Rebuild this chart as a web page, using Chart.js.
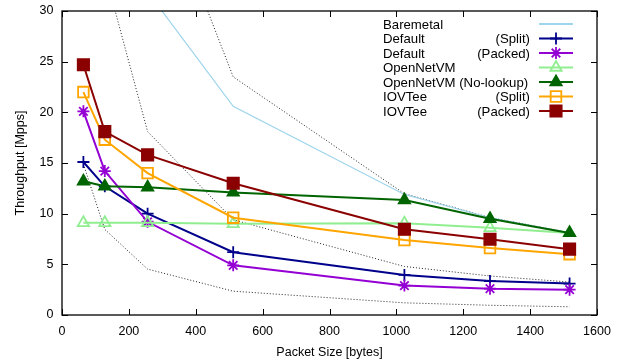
<!DOCTYPE html>
<html>
<head>
<meta charset="utf-8">
<script src="https://cdn.jsdelivr.net/npm/chart.js@4/dist/chart.umd.min.js"></script>
<style>
  html, body { margin: 0; padding: 0; background: #fff; }
  canvas { display: block; }
</style>
</head>
<body>
<canvas id="chart" width="618" height="360"></canvas>
<script>
"use strict";

const PACKET_SIZES = [64, 128, 256, 512, 1024, 1280, 1518];

// measured series (Mpps)
const BAREMETAL        = [45.0, 38.0, 31.9, 20.6, 11.9, 9.6, 8.1];
const DEFAULT_SPLIT    = [15.1, 12.7, 10.0, 6.2, 3.95, 3.35, 3.1];
const DEFAULT_PACKED   = [20.1, 14.2, 9.2, 4.9, 2.9, 2.6, 2.5];
const OPENNETVM        = [9.1, 9.1, 9.1, 9.0, 9.05, 8.6, 8.1];
const OPENNETVM_NOLOOK = [13.2, 12.7, 12.6, 12.1, 11.35, 9.5, 8.1];
const IOVTEE_SPLIT     = [22.0, 17.3, 14.0, 9.6, 7.4, 6.6, 6.0];
const IOVTEE_PACKED    = [24.7, 18.1, 15.8, 13.0, 8.46, 7.47, 6.5];

// dotted reference curves (10G / 40G / 100G line rate)
const RATE_10G  = [14.88, 8.45, 4.53, 2.35, 1.2, 0.96, 0.81];
const RATE_40G  = [59.5, 33.8, 18.1, 9.4, 4.79, 3.85, 3.25];
const RATE_100G = [148.8, 84.5, 45.3, 23.5, 11.97, 9.62, 8.13];

const LEGEND_LEFT  = ["Baremetal", "Default", "Default", "OpenNetVM", "OpenNetVM (No-lookup)", "IOVTee", "IOVTee"];
const LEGEND_RIGHT = ["", "(Split)", "(Packed)", "", "", "(Split)", "(Packed)"];

const X_TICKS = [0, 200, 400, 600, 800, 1000, 1200, 1400, 1600];
const Y_TICKS = [0, 5, 10, 15, 20, 25, 30];

const X_TITLE = "Packet Size [bytes]";
const Y_TITLE = "Throughput [Mpps]";

const FONT = "'Liberation Sans', Arial, sans-serif";
const FONT_SIZE = 12.5;
const KEY_FONT_SIZE = 13.2;

function pts(values) {
  return values.map((v, i) => ({ x: PACKET_SIZES[i], y: v }));
}

function series(values, color, style, radius, filled, width) {
  return {
    data: pts(values),
    borderColor: color,
    backgroundColor: color,
    borderWidth: width,
    pointStyle: style,
    pointRadius: radius,
    pointBorderColor: color,
    pointBackgroundColor: filled ? color : "rgba(0,0,0,0)",
    pointBorderWidth: 1.8,
    tension: 0,
    inLegend: true,
  };
}

function dotted(values) {
  return {
    data: pts(values),
    borderColor: "#222",
    borderWidth: 1,
    borderDash: [1, 2],
    pointRadius: 0,
    tension: 0,
    inLegend: false,
  };
}

const datasets = [
  dotted(RATE_10G),
  dotted(RATE_40G),
  dotted(RATE_100G),
  series(BAREMETAL,        "#9ed4ec", false,      0,   false, 1.2),
  series(DEFAULT_SPLIT,    "#00008b", "cross",    6,   false, 2),
  series(DEFAULT_PACKED,   "#9400d3", "star",     6,   false, 2),
  series(OPENNETVM,        "#90ee90", "triangle", 6.5, false, 2),
  series(OPENNETVM_NOLOOK, "#006400", "triangle", 6.5, true,  2),
  series(IOVTEE_SPLIT,     "#ffa500", "rect",     7.5, false, 2),
  series(IOVTEE_PACKED,    "#8b0000", "rect",     8,   true,  2),
];
// later datasets on top, like gnuplot
datasets.forEach((d, i) => { d.order = datasets.length - i; });

const framePlugin = {
  id: "frame",
  afterDraw(chart) {
    const { ctx, chartArea: a, scales } = chart;
    ctx.save();
    ctx.strokeStyle = "#000";
    ctx.lineWidth = 1.3;
    ctx.strokeRect(a.left, a.top, a.right - a.left, a.bottom - a.top);

    ctx.lineWidth = 1;
    ctx.beginPath();
    X_TICKS.forEach(v => {
      const x = Math.round(scales.x.getPixelForValue(v)) + 0.5;
      ctx.moveTo(x, a.bottom); ctx.lineTo(x, a.bottom - 6);
      ctx.moveTo(x, a.top);    ctx.lineTo(x, a.top + 6);
    });
    Y_TICKS.forEach(v => {
      const y = Math.round(scales.y.getPixelForValue(v)) + 0.5;
      ctx.moveTo(a.left, y);  ctx.lineTo(a.left + 6, y);
      ctx.moveTo(a.right, y); ctx.lineTo(a.right - 6, y);
    });
    ctx.stroke();

    // gnuplot-style key: text left, sample on the right
    ctx.font = KEY_FONT_SIZE + "px " + FONT;
    ctx.textBaseline = "middle";
    const legendSets = chart.data.datasets.filter(d => d.inLegend);
    legendSets.forEach((d, i) => {
      const y = 24 + i * 14.5;
      ctx.fillStyle = "#000";
      ctx.textAlign = "left";
      ctx.fillText(LEGEND_LEFT[i], 383, y + 1);
      ctx.textAlign = "right";
      ctx.fillText(LEGEND_RIGHT[i], 530, y + 1);

      ctx.strokeStyle = d.borderColor;
      ctx.lineWidth = 2;
      ctx.beginPath();
      ctx.moveTo(539, y); ctx.lineTo(573, y);
      ctx.stroke();
      if (d.pointStyle && d.pointRadius > 0) {
        ctx.fillStyle = d.pointBackgroundColor;
        ctx.lineWidth = d.pointBorderWidth;
        Chart.helpers.drawPoint(ctx, {
          pointStyle: d.pointStyle,
          radius: d.pointRadius,
          rotation: 0,
          borderWidth: d.pointBorderWidth,
        }, 556, y);
      }
    });
    ctx.restore();
  },
};

Chart.defaults.font.family = FONT;
Chart.defaults.font.size = FONT_SIZE;
Chart.defaults.color = "#000";

new Chart(document.getElementById("chart").getContext("2d"), {
  type: "line",
  data: { datasets },
  options: {
    responsive: false,
    animation: false,
    events: [],
    layout: { padding: { top: 11, right: 21, left: 0, bottom: 0 } },
    plugins: { legend: { display: false }, tooltip: { enabled: false } },
    scales: {
      x: {
        type: "linear",
        min: X_TICKS[0],
        max: X_TICKS[X_TICKS.length - 1],
        afterBuildTicks: s => { s.ticks = X_TICKS.map(v => ({ value: v })); },
        afterFit: s => { s.height = 45; s.paddingLeft = 0; s.paddingRight = 0; },
        grid: { display: false, drawTicks: false },
        border: { display: false },
        ticks: { padding: 9, maxRotation: 0, autoSkip: false, color: "#000", callback: v => String(v) },
        title: { display: true, text: X_TITLE, color: "#000", padding: { top: 0, bottom: 0 } },
      },
      y: {
        type: "linear",
        min: Y_TICKS[0],
        max: Y_TICKS[Y_TICKS.length - 1],
        afterBuildTicks: s => { s.ticks = Y_TICKS.map(v => ({ value: v })); },
        afterFit: s => { s.width = 62; s.paddingTop = 0; s.paddingBottom = 0; },
        grid: { display: false, drawTicks: false },
        border: { display: false },
        ticks: { padding: 8.5, color: "#000" },
        title: { display: true, text: Y_TITLE, color: "#000", padding: { top: 13, bottom: 0 } },
      },
    },
  },
  plugins: [framePlugin],
});
</script>
</body>
</html>
